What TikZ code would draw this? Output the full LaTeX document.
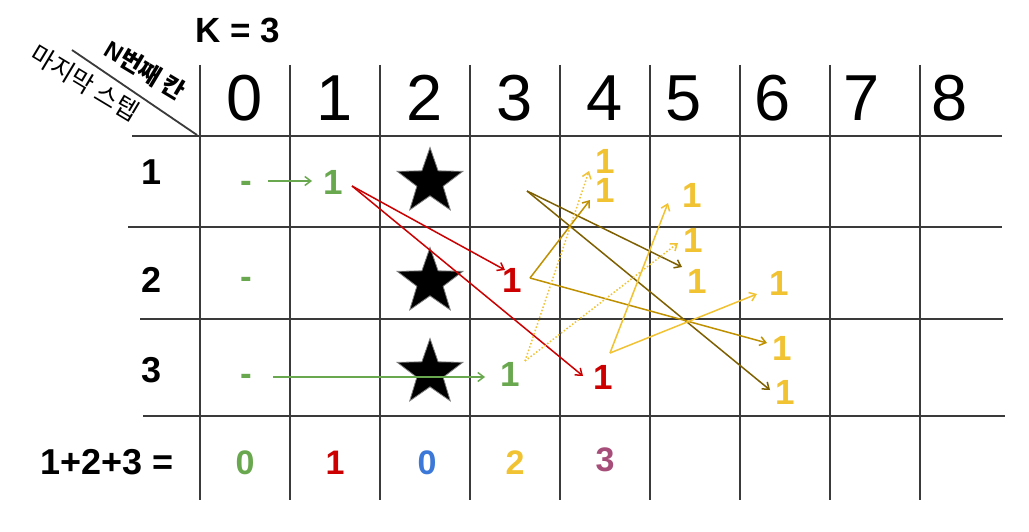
\documentclass[tikz,border=0pt]{standalone}
\usepackage{fontspec}
\setmainfont{Liberation Sans}
\newfontfamily\krfont{Noto Sans CJK KR}
\usetikzlibrary{arrows.meta,shapes.geometric}
\definecolor{cgreen}{HTML}{6AA84F}
\definecolor{cred}{HTML}{CC0000}
\definecolor{cblue}{HTML}{3C78D8}
\definecolor{cyellow}{HTML}{F1C232}
\definecolor{cpurple}{HTML}{A64D79}
\definecolor{colive}{HTML}{7F6000}
\definecolor{cgold}{HTML}{BF9000}
\definecolor{cgrid}{HTML}{3A3A3A}
\begin{document}
\begin{tikzpicture}[x=1pt,y=-1pt,
  gridline/.style={draw=cgrid,line width=2.2pt},
  hdr/.style={inner sep=0pt,font=\fontsize{65}{65}\selectfont},
  rowlab/.style={inner sep=0pt,font=\fontsize{36}{36}\selectfont\bfseries},
  sumnum/.style={inner sep=0pt,font=\fontsize{34}{34}\selectfont\bfseries},
  cellnum/.style={inner sep=0pt,font=\fontsize{35}{35}\selectfont\bfseries},
  starmark/.style={star,star points=5,star point ratio=2.5,minimum size=69pt,inner sep=0pt,fill=black,draw=gray,line width=0.8pt},
  arr/.style={line width=1.5pt,-{Straight Barb[length=6pt,width=9pt]}},
  dotarr/.style={line width=1.5pt,dotted,-{Straight Barb[length=6pt,width=9pt]}}
]
\useasboundingbox (0,0) rectangle (1029,532);
\fill[white] (0,0) rectangle (1029,532);

% grid
\draw[gridline] (132,136) -- (1002,136);
\draw[gridline] (128,227) -- (1002,227);
\draw[gridline] (140,319) -- (1003,319);
\draw[gridline] (143,416) -- (1005,416);
\foreach \x in {200,290,380,470,560,650,740,830,920}
  \draw[gridline] (\x,65) -- (\x,500);
\draw[draw=cgrid,line width=1.8pt] (72,50) -- (197,135);

% corner labels
\node[inner sep=0pt,rotate=-31] (colhead) at (145,70) {\fontsize{24}{24}\selectfont\bfseries N\krfont\bfseries 번째 칸};
\node[inner sep=0pt,rotate=-31] (rowhead) at (85,83) {\fontsize{25}{25}\selectfont\krfont 마지막 스텝};
\node[inner sep=0pt,font=\fontsize{35}{35}\selectfont\bfseries] (k) at (238,30) {K = 3};

% column headers
\foreach \i/\x in {0/245,1/335,2/425,3/515,4/605,5/684,6/773,7/862,8/950}
  \node[hdr] (h\i) at (\x,98) {\i};

% row labels
\node[rowlab] (r1) at (152,172) {1};
\node[rowlab] (r2) at (152,280) {2};
\node[rowlab] (r3) at (152,370) {3};
\node[rowlab] (sumlab) at (107,462) {1+2+3 =};

% sums
\node[sumnum,text=cgreen] (s0) at (245,463) {0};
\node[sumnum,text=cred] (s1) at (335,463) {1};
\node[sumnum,text=cblue] (s2) at (427,463) {0};
\node[sumnum,text=cyellow] (s3) at (515,463) {2};
\node[sumnum,text=cpurple] (s4) at (605,460) {3};

% stars
\node[starmark] (st1) at (430,182) {};
\node[starmark] (st2) at (430,282) {};
\node[starmark] (st3) at (430,373) {};

% cell entries
\node[cellnum,text=cgreen] (d1) at (246,187) {-};
\node[cellnum,text=cgreen] (d2) at (246,283) {-};
\node[cellnum,text=cgreen] (d3) at (246,380) {-};
\node[cellnum,text=cgreen] (g1) at (333,182) {1};
\node[cellnum,text=cgreen] (g3) at (510,374) {1};
\node[cellnum,text=cred] (red2) at (512,280) {1};
\node[cellnum,text=cred] (red3) at (603,377) {1};
\node[cellnum,text=cyellow] (y1) at (605,161) {1};
\node[cellnum,text=cyellow] (y2) at (605,190) {1};
\node[cellnum,text=cyellow] (y3) at (692,195) {1};
\node[cellnum,text=cyellow] (y4) at (693,240) {1};
\node[cellnum,text=cyellow] (y5) at (697,281) {1};
\node[cellnum,text=cyellow] (y6) at (779,283) {1};
\node[cellnum,text=cyellow] (y7) at (782,348) {1};
\node[cellnum,text=cyellow] (y8) at (785,392) {1};

% arrow end points
\coordinate (ga1s) at (268,181);
\coordinate (ga1e) at (312,181);
\coordinate (ga3s) at (273,377);
\coordinate (ga3e) at (485,377);
\coordinate (ra) at (352,186);
\coordinate (rb) at (505,270);
\coordinate (rc) at (583,376);
\coordinate (oa) at (527,191);
\coordinate (ob) at (682,267);
\coordinate (oc) at (770,390);
\coordinate (gda) at (530,278);
\coordinate (gdb) at (590,200);
\coordinate (gdc) at (767,343);
\coordinate (ya) at (610,353);
\coordinate (yb) at (668,203);
\coordinate (yc) at (757,294);
\coordinate (da) at (525,361);
\coordinate (db) at (589,171);
\coordinate (dc) at (678,243);

% arrows
\draw[arr,cgreen] (ga1s) -- (ga1e);
\draw[arr,cgreen] (ga3s) -- (ga3e);
\draw[arr,cred] (ra) -- (rb);
\draw[arr,cred] (ra) -- (rc);
\draw[arr,colive] (oa) -- (ob);
\draw[arr,colive] (oa) -- (oc);
\draw[arr,cgold] (gda) -- (gdb);
\draw[arr,cgold] (gda) -- (gdc);
\draw[arr,cyellow] (ya) -- (yb);
\draw[arr,cyellow] (ya) -- (yc);
\draw[dotarr,cyellow] (da) -- (db);
\draw[dotarr,cyellow] (da) -- (dc);
\end{tikzpicture}
\end{document}
